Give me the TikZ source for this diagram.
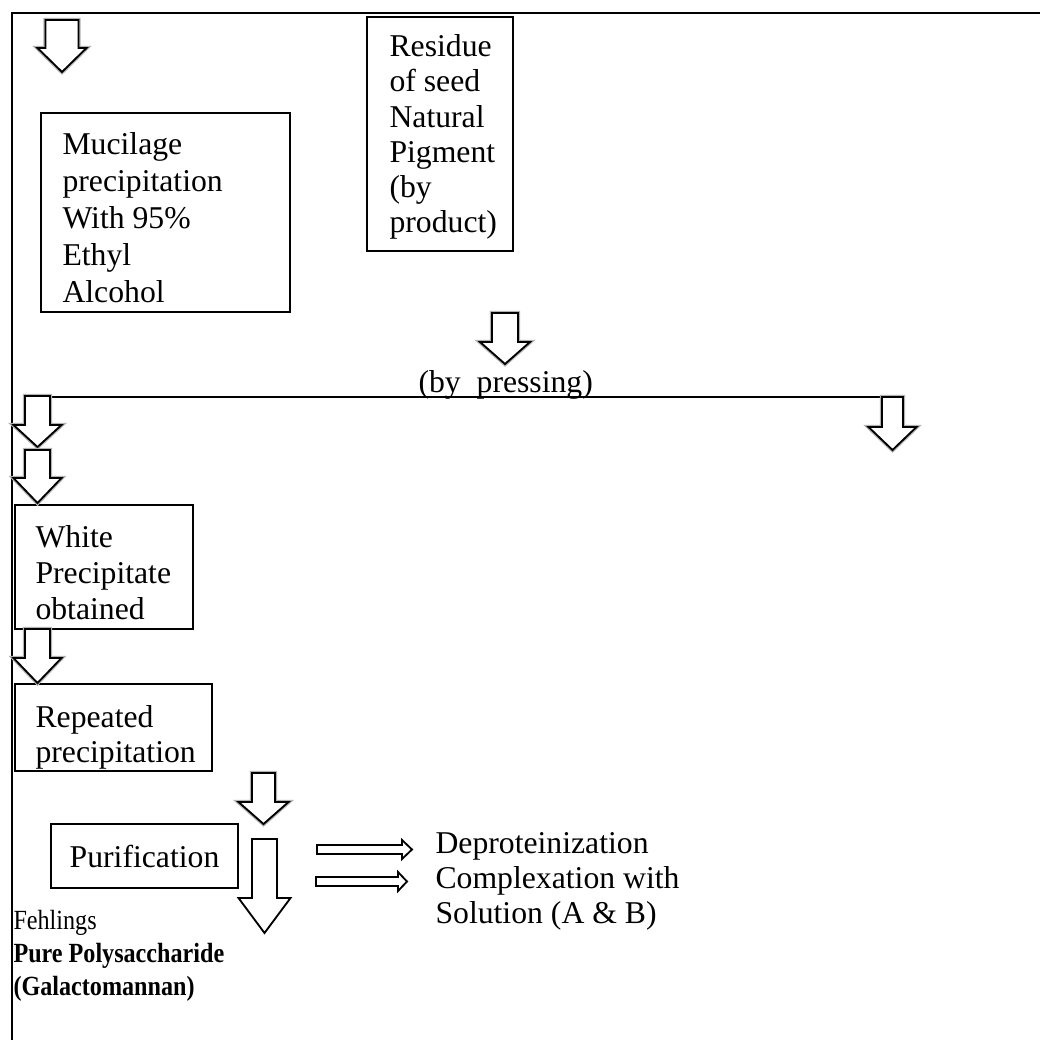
\documentclass[tikz,border=0pt]{standalone}
\usepackage{fontspec}
\setmainfont{Liberation Serif}
\newfontfamily\narrowserif[FakeStretch=0.87]{Liberation Serif}

\tikzset{
  procbox/.style={draw, line width=0.75pt, anchor=north west, inner sep=0pt, outer sep=0pt},
  boxtext/.style={anchor=base west, inner sep=0pt, align=flush left, text width=6cm},
  hollow/.style={draw, line width=0.7pt, fill=white, line join=miter},
  softhollow/.style={hollow, preaction={draw=black!30, line width=1.6pt}},
}

% hollow block arrow pointing down: centre x, top, shoulder, tip, shaft half, head half
\newcommand{\blockdown}[6]{%
  \draw[softhollow] (#1-#5,#2) -- (#1+#5,#2) -- (#1+#5,#3) -- (#1+#6,#3)
    -- (#1,#4) -- (#1-#6,#3) -- (#1-#5,#3) -- cycle;}
% hollow block arrow pointing right: start x, centre y, head base x, tip x
\newcommand{\blockright}[4]{%
  \draw[hollow] (#1,#2-4.5) -- (#3,#2-4.5) -- (#3,#2-9.5) -- (#4,#2)
    -- (#3,#2+9.5) -- (#3,#2+4.5) -- (#1,#2+4.5) -- cycle;}

\begin{document}
\begin{tikzpicture}[x=0.3785pt, y=-0.3785pt]
    \useasboundingbox (0,0) rectangle (1040,1040);

    % frame
    \draw[line width=0.8pt] (1040,13) -- (12,13) -- (12,1040);

    % boxes
    \node[procbox, minimum width=94.25pt, minimum height=75.32pt] (muc) at (41,113) {};
    \node[procbox, minimum width=55.26pt, minimum height=88.57pt] (res) at (367,17) {};
    \node[procbox, minimum width=67.37pt, minimum height=46.93pt] (white) at (15,505) {};
    \node[procbox, minimum width=74.56pt, minimum height=32.93pt] (rep) at (15,684) {};
    \node[procbox, minimum width=70.78pt, minimum height=24.22pt] (pur) at (51,824) {};

    % texts
    \node[boxtext, font=\fontsize{12}{14}\selectfont] (muctext) at (62,155)
      {Mucilage\\precipitation\\With 95\%\\Ethyl\\Alcohol};
    \node[boxtext, font=\fontsize{12}{13.25}\selectfont] (restext) at (389,57)
      {Residue\\of seed\\Natural\\Pigment\\(by\\product)};
    \node[boxtext, font=\fontsize{12}{13.8}\selectfont] (whitetext) at (35,547)
      {White\\Precipitate\\obtained};
    \node[boxtext, font=\fontsize{12}{13.25}\selectfont] (reptext) at (35,727)
      {Repeated\\precipitation};
    \node[inner sep=0pt, font=\fontsize{12}{14}\selectfont] (purtext) at (pur.center) {Purification};
    \node[boxtext, font=\fontsize{12}{13.25}\selectfont] (press) at (418,393) {(by\ \ pressing)};
    \node[boxtext, font=\fontsize{12}{13.25}\selectfont] (deprot) at (435,853)
      {Deproteinization\\Complexation with\\Solution (A \& B)};
    \node[boxtext, font=\narrowserif\fontsize{10.5}{12.6}\selectfont] (fehl) at (13,929)
      {Fehlings\\\textbf{Pure Polysaccharide}\\\textbf{(Galactomannan)}};

    % split line after pressing
    \draw[line width=0.6pt] (25,397) -- (903,397);

    % block arrows
    \blockdown{62}{20}{48}{72}{16.5}{24.5}
    \blockdown{505}{313}{342}{364}{13}{25}
    \blockdown{37.5}{396}{425}{447}{12.5}{24}
    \blockdown{37.5}{450}{478}{503}{12.5}{24}
    \blockdown{37.5}{629}{658}{683}{12.5}{24}
    \blockdown{892.5}{397}{427}{450}{10.5}{24}
    \blockdown{263.5}{773}{802}{824}{11.5}{25}
    \blockright{317}{849.5}{402}{412}
    \blockright{316}{881.5}{398}{407}
    \draw[hollow] (252,839) -- (277,839) -- (277,898) -- (290.5,898)
      -- (264.5,933) -- (238.5,898) -- (252,898) -- cycle;
  \end{tikzpicture}
\end{document}
